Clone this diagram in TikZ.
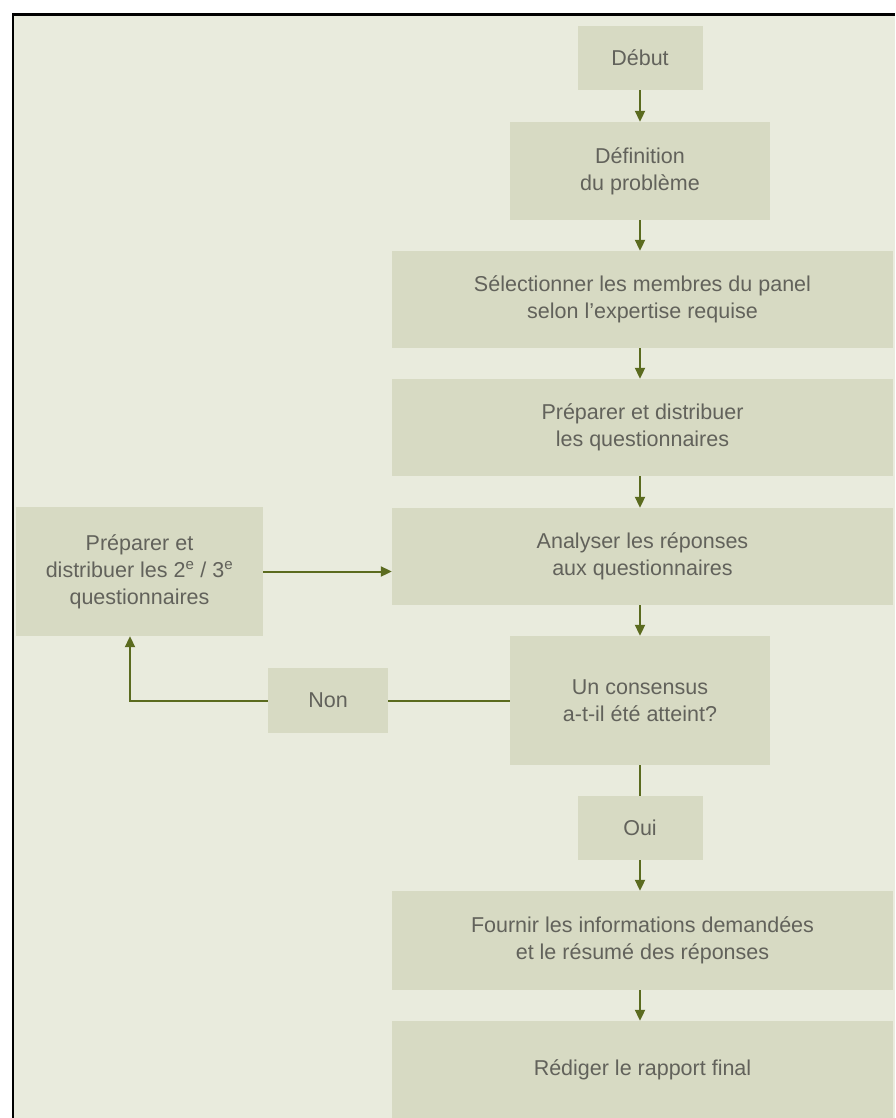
\documentclass[tikz,border=0pt]{standalone}
\usepackage{fontspec}
\setmainfont{Liberation Sans}
\usetikzlibrary{arrows.meta}
\definecolor{bgc}{HTML}{E9EBDD}
\definecolor{boxc}{HTML}{D7DAC3}
\definecolor{arrc}{HTML}{5B6B1F}
\definecolor{txtc}{HTML}{62625B}
\tikzset{
  stepbox/.style={fill=boxc, draw=none, inner sep=0pt, align=center, text=txtc,
    font=\fontsize{21.5}{27}\selectfont},
  flow/.style={draw=arrc, line width=2pt, -{Triangle[length=11pt,width=10pt]}},
  plain/.style={draw=arrc, line width=2pt},
}
\begin{document}
\begin{tikzpicture}[x=1pt,y=-1pt]
\useasboundingbox (0,0) rectangle (895,1118);
\fill[white] (0,0) rectangle (895,1118);
\fill[bgc] (13,14) rectangle (895,1118);
\draw[black, line width=3pt] (13,14.5) -- (895,14.5);
\draw[black, line width=2pt] (13,13) -- (13,1118);

\node[stepbox, minimum width=125pt, minimum height=64pt] (debut) at (640,58) {Début};
\node[stepbox, minimum width=260pt, minimum height=98pt] (def) at (640,171) {Définition\\du problème};
\node[stepbox, minimum width=501pt, minimum height=97pt] (sel) at (642.5,299.5) {Sélectionner les membres du panel\\selon l’expertise requise};
\node[stepbox, minimum width=501pt, minimum height=97pt] (prep) at (642.5,427.5) {Préparer et distribuer\\les questionnaires};
\node[stepbox, minimum width=501pt, minimum height=97pt] (ana) at (642.5,556.5) {Analyser les réponses\\aux questionnaires};
\node[stepbox, minimum width=247pt, minimum height=129pt] (left) at (139.5,571.5) {Préparer et\\distribuer les 2\textsuperscript{e} / 3\textsuperscript{e}\\questionnaires};
\node[stepbox, minimum width=260pt, minimum height=129pt] (cons) at (640,700.5) {Un consensus\\a-t-il été atteint?};
\node[stepbox, minimum width=120pt, minimum height=65pt] (non) at (328,700.5) {Non};
\node[stepbox, minimum width=125pt, minimum height=64pt] (oui) at (640,828) {Oui};
\node[stepbox, minimum width=501pt, minimum height=99pt] (four) at (642.5,940.5) {Fournir les informations demandées\\et le résumé des réponses};
\node[stepbox, minimum width=501pt, minimum height=98pt] (red) at (642.5,1070) {Rédiger le rapport final};

\coordinate (corner) at (130,700.5);

\draw[flow] (debut.south) -- (def.north);
\draw[flow] (def.south) -- (sel.north -| def.south);
\draw[flow] (sel.south -| def.south) -- (prep.north -| def.south);
\draw[flow] (prep.south -| def.south) -- (ana.north -| def.south);
\draw[flow] (ana.south -| def.south) -- (cons.north);
\draw[flow] (left.east) -- (left.east -| ana.west);
\draw[plain] (cons.west) -- (non.east);
\draw[flow] (non.west) -- (corner) -- (corner |- left.south);
\draw[plain] (cons.south) -- (oui.north);
\draw[flow] (oui.south) -- (four.north -| oui.south);
\draw[flow] (four.south -| oui.south) -- (red.north -| oui.south);
\end{tikzpicture}
\end{document}
